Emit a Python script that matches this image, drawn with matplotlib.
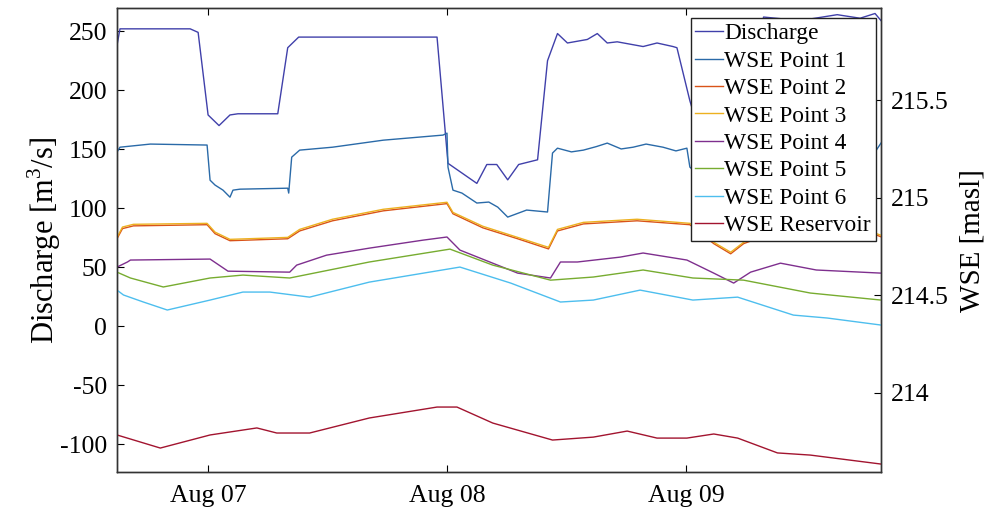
# discharge and water surface elevation (WSE) over three days

import datetime as dt
import matplotlib
matplotlib.use("Agg")
import matplotlib.pyplot as plt
import matplotlib.dates as mdates
from matplotlib.ticker import FuncFormatter

plt.rcParams["font.family"] = "Liberation Serif"
plt.rcParams["mathtext.fontset"] = "custom"
plt.rcParams["mathtext.rm"] = "Liberation Serif"
plt.rcParams["axes.unicode_minus"] = False

start = dt.datetime(2023, 8, 7)

## data, time given in hours after Aug 07 00:00
discharge_hours = [-9.15, -8.85, -1.8, -1.0, 0.0, 1.1, 2.2, 3.0, 7.0, 8.0, 9.1, 23.0, 24.1, 27.0,
                   28.0, 29.0, 30.1, 31.2, 33.1, 34.1, 35.1, 36.1, 38.1, 39.1, 40.1, 41.1, 43.7,
                   45.1, 46.7, 47.1, 48.4, 50.5, 53.5, 55.0, 55.8, 59.5, 63.2, 65.5, 67.0, 67.6]
discharge = [238, 252, 252, 249, 179, 170, 179, 180, 180, 236, 245, 245, 138, 121,
             137, 137, 124, 137, 141, 225, 248, 240, 243, 248, 240, 241, 237,
             240, 237, 236, 191, 132, 124, 225, 262, 259, 264, 261, 265, 259]

p1_hours = [-9.15, -8.85, -5.8, -0.1, 0.2, 0.7, 1.5, 2.2, 2.5, 3.2, 8.0, 8.1, 8.4, 9.2, 12.5,
            17.6, 23.6, 24.0, 24.1, 24.6, 25.5, 27.0, 28.2, 29.1, 30.1, 32.0, 34.1, 34.6,
            35.1, 36.5, 37.7, 39.0, 40.1, 41.5, 42.7, 44.0, 45.7, 47.0, 48.1, 48.4, 51.5,
            59.5, 66.5, 67.0, 67.6]
wse_p1 = [215.234, 215.259, 215.275, 215.270, 215.090, 215.065, 215.039, 215.003, 215.039,
          215.044, 215.049, 215.024, 215.208, 215.244, 215.259, 215.295, 215.321, 215.331,
          215.157, 215.039, 215.024, 214.973, 214.978, 214.952, 214.901, 214.937, 214.927,
          215.229, 215.254, 215.235, 215.244, 215.262, 215.280, 215.250, 215.259, 215.275,
          215.259, 215.240, 215.254, 215.157, 215.014, 215.039, 215.167, 215.234, 215.280]

p23_hours = [-9.15, -8.6, -7.5, -0.1, 0.7, 2.2, 8.0, 9.2, 12.5, 17.6, 24.0, 24.6, 27.6, 31.1,
             34.2, 35.1, 37.7, 43.1, 48.4, 50.8, 52.5, 53.8, 55.5, 59.5, 66.8, 67.6]
wse_p2 = [214.790, 214.842, 214.856, 214.862, 214.816, 214.780, 214.790, 214.830, 214.882,
          214.933, 214.970, 214.918, 214.846, 214.790, 214.738, 214.830, 214.866, 214.882,
          214.862, 214.765, 214.713, 214.765, 214.797, 214.806, 214.816, 214.800]
wse_p3 = [214.797, 214.850, 214.864, 214.869, 214.824, 214.787, 214.797, 214.838, 214.890,
          214.941, 214.977, 214.925, 214.854, 214.797, 214.746, 214.838, 214.874, 214.890,
          214.869, 214.772, 214.721, 214.772, 214.805, 214.813, 214.822, 214.808]

p4_hours = [-9.15, -8.1, -7.8, 0.2, 2.0, 8.2, 8.9, 11.9, 16.2, 21.6, 24.0, 25.3, 31.1, 34.4,
            35.4, 37.1, 41.4, 43.7, 48.1, 50.8, 52.8, 54.5, 57.5, 61.1, 67.6]
wse_p4 = [214.645, 214.671, 214.681, 214.686, 214.624, 214.619, 214.655, 214.706, 214.742,
          214.783, 214.799, 214.732, 214.614, 214.589, 214.671, 214.671, 214.696, 214.717,
          214.681, 214.614, 214.563, 214.619, 214.665, 214.630, 214.614]

p5_hours = [-9.15, -7.8, -4.5, 0.2, 3.5, 8.2, 16.2, 24.3, 28.6, 34.4, 38.7, 43.7, 48.7, 53.8,
            60.5, 67.6]
wse_p5 = [214.619, 214.589, 214.543, 214.589, 214.604, 214.589, 214.671, 214.737, 214.655,
          214.578, 214.594, 214.630, 214.589, 214.578, 214.512, 214.476]

p6_hours = [-9.15, -8.5, -6.5, -4.1, 0.2, 3.5, 6.2, 10.2, 16.2, 25.3, 30.4, 35.4, 38.7, 43.4,
            48.7, 53.2, 58.8, 62.2, 67.6]
wse_p6 = [214.527, 214.502, 214.466, 214.425, 214.476, 214.517, 214.517, 214.491, 214.568,
          214.645, 214.563, 214.466, 214.476, 214.527, 214.476, 214.491, 214.399, 214.384,
          214.348]

res_hours = [-9.15, -4.8, 0.2, 4.9, 6.9, 10.2, 16.2, 23.0, 25.0, 28.6, 34.6, 38.7, 42.1, 45.1,
             48.1, 50.8, 53.2, 57.2, 60.5, 67.6]
wse_res = [213.785, 213.718, 213.785, 213.821, 213.795, 213.795, 213.872, 213.928, 213.928,
           213.846, 213.759, 213.774, 213.805, 213.769, 213.769, 213.790, 213.769, 213.693,
           213.682, 213.636]


def to_time(hours):
    return [start + dt.timedelta(hours=h) for h in hours]


fig = plt.figure(figsize=(10, 5.12), dpi=100)
ax = fig.add_axes([0.117, 0.078, 0.764, 0.906])
ax2 = ax.twinx()

# discharge on the left axis
l0, = ax.plot(to_time(discharge_hours), discharge, color="#4040aa", lw=1.0, label="Discharge")

# water levels on the right axis
wse = [
    (p1_hours, wse_p1, "#2a6aa8", "WSE Point 1"),
    (p23_hours, wse_p2, "#d95319", "WSE Point 2"),
    (p23_hours, wse_p3, "#edb120", "WSE Point 3"),
    (p4_hours, wse_p4, "#7e2f8e", "WSE Point 4"),
    (p5_hours, wse_p5, "#77ac30", "WSE Point 5"),
    (p6_hours, wse_p6, "#4dbeee", "WSE Point 6"),
    (res_hours, wse_res, "#a2142f", "WSE Reservoir"),
]
lines = [l0]
for hours, values, color, name in wse:
    line, = ax2.plot(to_time(hours), values, color=color, lw=1.0, label=name)
    lines.append(line)

ax.set_xlim(start + dt.timedelta(hours=-9.15), start + dt.timedelta(hours=67.6))
ax.set_ylim(-123.7, 269.5)
ax2.set_ylim(213.595, 215.971)

ax.set_yticks(range(-100, 251, 50))
ax2.set_yticks([214, 214.5, 215, 215.5])
ax2.yaxis.set_major_formatter(FuncFormatter(lambda v, p: f"{v:g}"))

ax.xaxis.set_major_locator(mdates.DayLocator())
ax.xaxis.set_major_formatter(mdates.DateFormatter("%b %d"))

ax.tick_params(axis="both", direction="in", labelsize=18.5, length=5, top=True, pad=7)
ax.tick_params(axis="x", pad=9)
ax2.tick_params(axis="y", direction="in", labelsize=18.5, length=5, pad=7)

ax.set_ylabel("Discharge [m$^3$/s]", fontsize=22, labelpad=-2)
ax2.set_ylabel("WSE [masl]", fontsize=21, labelpad=8)

for a in (ax, ax2):
    for s in a.spines.values():
        s.set_color("#333333")
        s.set_linewidth(1.0)

ax2.legend(handles=lines, loc="upper right", bbox_to_anchor=(0.993, 0.978), borderaxespad=0,
           fontsize=16.8, frameon=True, fancybox=False, edgecolor="#222222", framealpha=1,
           handlelength=1.2, handletextpad=0.05, labelspacing=0.26, borderpad=0.2)

plt.savefig("out.png", dpi=100)
